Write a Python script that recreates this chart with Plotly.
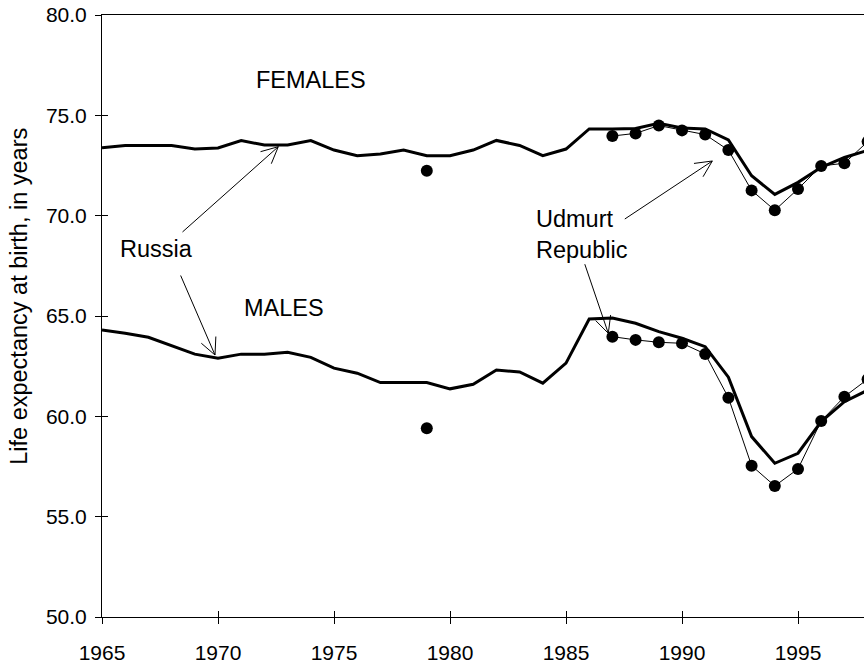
import math
import plotly.graph_objects as go

# ---- data ----
years_russia = list(range(1965, 1999))
russia_females = [73.39, 73.5, 73.5, 73.5, 73.32, 73.37, 73.74, 73.52, 73.52, 73.74,
                  73.27, 72.99, 73.07, 73.27, 72.99, 72.99, 73.27, 73.75, 73.5, 72.99,
                  73.32, 74.32, 74.32, 74.35, 74.6, 74.37, 74.32, 73.77, 71.99, 71.06,
                  71.66, 72.41, 72.9, 73.25]
russia_males = [64.3, 64.14, 63.94, 63.5, 63.1, 62.89, 63.1, 63.1, 63.19, 62.94,
                62.4, 62.15, 61.68, 61.68, 61.68, 61.37, 61.6, 62.31, 62.21, 61.65,
                62.65, 64.85, 64.9, 64.64, 64.22, 63.89, 63.47, 61.95, 58.99, 57.66,
                58.16, 59.74, 60.73, 61.3]

years_udmurt = [1979, None, 1987, 1988, 1989, 1990, 1991, 1992, 1993, 1994, 1995, 1996, 1997, 1998]
udmurt_females = [72.24, None, 73.97, 74.1, 74.49, 74.25, 74.04, 73.27, 71.26, 70.27,
                  71.33, 72.48, 72.61, 73.69]
udmurt_males = [59.41, None, 63.97, 63.81, 63.69, 63.64, 63.11, 60.93, 57.54, 56.53,
                57.38, 59.77, 60.98, 61.85]

x_ticks = [1965, 1970, 1975, 1980, 1985, 1990, 1995]
y_ticks = [50, 55, 60, 65, 70, 75, 80]

FONT = "Arial, Liberation Sans, sans-serif"
TXT = 23.5

fig = go.Figure()

for ys in (russia_females, russia_males):
    fig.add_trace(go.Scatter(x=years_russia, y=ys, mode="lines",
                             line=dict(color="black", width=3),
                             showlegend=False, hoverinfo="skip"))

for ys in (udmurt_females, udmurt_males):
    fig.add_trace(go.Scatter(x=years_udmurt, y=ys, mode="lines+markers",
                             line=dict(color="black", width=1),
                             marker=dict(color="black", size=12),
                             connectgaps=False,
                             showlegend=False, hoverinfo="skip"))

# dummy trace to anchor overlay axes (for inward tick marks)
fig.add_trace(go.Scatter(x=[1965], y=[50], xaxis="x2", yaxis="y2", mode="markers",
                         marker=dict(opacity=0), showlegend=False, hoverinfo="skip"))

xr = [1965, 1965 + 762 / 23.2]
yr = [50, 80]

axis_common = dict(showgrid=False, zeroline=False, linecolor="black", linewidth=1,
                   tickcolor="black", tickwidth=1, ticklen=6)

fig.update_layout(
    width=864, height=663,
    margin=dict(l=102, r=0, t=15, b=46),
    paper_bgcolor="white", plot_bgcolor="white",
    font=dict(family=FONT, size=21, color="black"),
    xaxis=dict(range=xr, tickvals=x_ticks, ticks="outside", showline=True,
               mirror=True, tickfont=dict(size=21), ticklabelstandoff=11, **axis_common),
    yaxis=dict(range=yr, tickvals=y_ticks, tickformat=".1f", ticks="outside",
               showline=True, tickfont=dict(size=21), ticklabelstandoff=4, **axis_common),
    xaxis2=dict(range=xr, tickvals=x_ticks, ticks="inside", showticklabels=False,
                overlaying="x", showline=False, **axis_common),
    yaxis2=dict(range=yr, tickvals=y_ticks, ticks="inside", showticklabels=False,
                overlaying="y", showline=False, **axis_common),
)

# y-axis title
fig.add_annotation(text="Life expectancy at birth, in years", xref="paper", yref="paper",
                   x=-0.1089, y=0.532, xanchor="center", yanchor="middle",
                   textangle=-90, showarrow=False, font=dict(size=TXT))


def px_to_data(px, py):
    return 1965 + (px - 102) / 23.2, 80 - (py - 15) / 20.0667


labels = [
    ("FEMALES", 254, 80),
    ("MALES", 242, 308),
    ("Russia", 118, 249),
]
for txt, px, py in labels:
    x, y = px_to_data(px, py)
    fig.add_annotation(text=txt, x=x, y=y, xanchor="left", yanchor="middle",
                       showarrow=False, font=dict(size=TXT))

x, y = px_to_data(534, 234)
fig.add_annotation(text="Udmurt<br>Republic", x=x, y=y, xanchor="left", yanchor="middle",
                   align="left", showarrow=False, font=dict(size=TXT))

# pointer arrows: (head px), (tail px); open V heads drawn as two thin strokes
arrows = [
    ((278.3, 146.7), (181, 233.3)),
    ((215, 355), (180, 274)),
    ((712.3, 161), (623.3, 220)),
    ((608.3, 333.3), (584.3, 262.7)),
]
ARM = 20
HALF = math.radians(26)
for (hx, hy), (tx, ty) in arrows:
    x, y = px_to_data(hx, hy)
    fig.add_annotation(text="", x=x, y=y, ax=tx - hx, ay=ty - hy,
                       showarrow=True, arrowhead=0, arrowwidth=1, arrowcolor="black")
    dx, dy = tx - hx, ty - hy
    ang = math.atan2(dy, dx)
    for s in (-1, 1):
        a = ang + s * HALF
        fig.add_annotation(text="", x=x, y=y, ax=ARM * math.cos(a), ay=ARM * math.sin(a),
                           showarrow=True, arrowhead=0, arrowwidth=1, arrowcolor="black")

fig.write_html(
    "out.html",
    config={"displayModeBar": False},
    post_script="document.body.style.margin='0';document.body.style.overflow='hidden';"
                "document.documentElement.style.overflow='hidden';",
)
